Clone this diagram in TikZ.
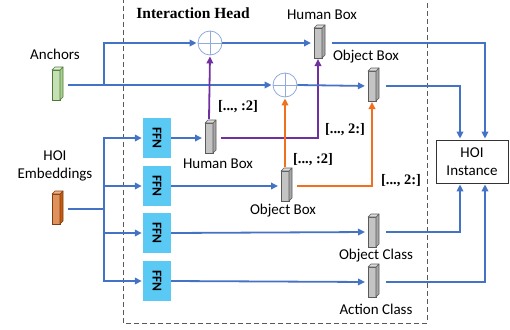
\documentclass[tikz,border=0pt]{standalone}
\usepackage{fontspec}
\usepackage{graphicx}
\setmainfont{Carlito}
\newfontfamily\timesfont{Liberation Serif}
\usetikzlibrary{arrows.meta,calc}

\definecolor{lineblue}{HTML}{4472C4}
\definecolor{linepurple}{HTML}{7030A0}
\definecolor{lineorange}{HTML}{F07020}
\definecolor{ringblue}{HTML}{8FAADC}
\definecolor{ffncyan}{RGB}{90,202,245}
\definecolor{grayfront}{HTML}{C4C4C4}
\definecolor{grayside}{HTML}{A6A6A6}
\definecolor{graytop}{HTML}{DDDDDD}
\definecolor{grayedge}{HTML}{5A5A5A}
\definecolor{greenfront}{HTML}{C5E0B4}
\definecolor{greenside}{HTML}{A9D18E}
\definecolor{greentop}{HTML}{E2F0D9}
\definecolor{greenedge}{HTML}{4E7A35}
\definecolor{orangefront}{HTML}{E0925C}
\definecolor{orangeside}{HTML}{C55A11}
\definecolor{orangetop}{HTML}{F4B183}
\definecolor{orangeedge}{HTML}{7F3F10}

% front face of a bar, plus its right side and top faces
\newcommand\barfaces[4]{%
  \draw[draw=#4, line width=0.6pt, fill=#2, line join=round]
    (#1.north east) -- ++(3,-3) -- ++(0,30) -- (#1.south east) -- cycle;
  \draw[draw=#4, line width=0.6pt, fill=#3, line join=round]
    (#1.north west) -- ++(3,-3) -- ++(8,0) -- (#1.north east) -- cycle;
}

\begin{document}
\begin{tikzpicture}[x=1pt,y=-1pt,
  tip/.style={-{Triangle[length=7pt,width=6.5pt]}},
  flow/.style={draw=lineblue, line width=1.8pt, tip, shorten >=1pt},
  flowline/.style={draw=lineblue, line width=1.8pt},
  pflow/.style={draw=linepurple, line width=1.8pt, tip, shorten >=1pt},
  oflow/.style={draw=lineorange, line width=1.8pt, tip, shorten >=1pt},
  bar/.style={rectangle, minimum width=8pt, minimum height=30pt,
    inner sep=0pt, outer sep=0pt, line width=0.6pt},
  graybar/.style={bar, fill=grayfront, draw=grayedge},
  ffnbox/.style={rectangle, fill=ffncyan, minimum width=28pt,
    minimum height=40pt, inner sep=0pt,
    font=\fontsize{13.5}{13.5}\selectfont\bfseries},
  oplus/.style={circle, draw=ringblue, line width=0.8pt, fill=white,
    minimum size=24pt, inner sep=0pt,
    path picture={\draw[ringblue, line width=0.8pt]
      (path picture bounding box.north) -- (path picture bounding box.south)
      (path picture bounding box.west) -- (path picture bounding box.east);}},
  lbl/.style={font=\fontsize{15}{18}\selectfont, inner sep=0pt, align=center},
  slice/.style={font=\timesfont\bfseries\fontsize{14.5}{15}\selectfont, inner sep=0pt},
  headbox/.style={draw=black!65, line width=0.8pt, dash pattern=on 5pt off 3pt}
]
\useasboundingbox (0,0) rectangle (510,329);

% interaction head frame
\draw[headbox] (123,-2) -- (123,323) -- (427,323) -- (427,-2);
\node[font=\timesfont\bfseries\fontsize{15.5}{16}\selectfont, inner sep=0pt]
  (headlbl) at (193,13) {Interaction Head};

% inputs
\node[lbl] (anclbl) at (55,54) {Anchors};
\node[bar, fill=greenfront, draw=greenedge] (anc) at (56,85) {};
\barfaces{anc}{greenside}{greentop}{greenedge}

\node[lbl] (emblbl) at (55,166) {HOI\\Embeddings};
\node[bar, fill=orangefront, draw=orangeedge] (emb) at (56,209) {};
\barfaces{emb}{orangeside}{orangetop}{orangeedge}

% feed-forward heads
\node[ffnbox] (f1) at (157,138) {\rotatebox{-90}{FFN}};
\node[ffnbox] (f2) at (157,186) {\rotatebox{-90}{FFN}};
\node[ffnbox] (f3) at (157,233) {\rotatebox{-90}{FFN}};
\node[ffnbox] (f4) at (157,281) {\rotatebox{-90}{FFN}};

% offset sums
\node[oplus] (c1) at (210,43) {};
\node[oplus] (c2) at (285,85) {};

% intermediate and final outputs
\node[graybar] (hb) at (209,138) {};
\barfaces{hb}{grayside}{graytop}{grayedge}
\node[lbl] (hblbl) at (218,164) {Human Box};

\node[graybar] (ob) at (285,186) {};
\barfaces{ob}{grayside}{graytop}{grayedge}
\node[lbl] (oblbl) at (283,211) {Object Box};

\node[graybar] (hbt) at (318,43) {};
\barfaces{hbt}{grayside}{graytop}{grayedge}
\node[lbl] (hbtlbl) at (322,15) {Human Box};

\node[graybar] (obt) at (372,86) {};
\barfaces{obt}{grayside}{graytop}{grayedge}
\node[lbl] (obtlbl) at (366,57) {Object Box};

\node[graybar] (oc) at (372,232) {};
\barfaces{oc}{grayside}{graytop}{grayedge}
\node[lbl] (oclbl) at (376,256) {Object Class};

\node[graybar] (ac) at (372,282) {};
\barfaces{ac}{grayside}{graytop}{grayedge}
\node[lbl] (aclbl) at (376,309) {Action Class};

\node[draw=black!80, line width=0.8pt, minimum width=72pt, minimum height=43pt,
  lbl, inner sep=0pt] (hoi) at (472,161.5) {HOI\\Instance};

% anchors into the sums
\coordinate (asplit) at (104,85);
\draw[flow] ([xshift=8pt]anc.east) -- (c2.west);
\draw[flow] (asplit) |- (c1.west);

% embeddings fan out to the heads
\coordinate (ebus) at (104,209);
\draw[flowline] ([xshift=8pt]emb.east) -- (ebus);
\draw[flow] (ebus) |- (f1.west);
\draw[flow] (ebus) |- (f2.west);
\draw[flow] (ebus) |- (f3.west);
\draw[flow] (ebus) |- (f4.west);

% head outputs
\draw[flow, shorten >=3pt] (f1.east) -- (hb.west);
\draw[flow, shorten >=3pt] (f2.east) -- (ob.west);
\draw[flow, shorten >=3pt] (f3.east) -- (oc.west);
\draw[flow, shorten >=3pt] (f4.east) -- (ac.west);

% box slices
\draw[pflow] ([yshift=4pt]hb.north) -- (c1.south);
\draw[pflow] ([xshift=8pt]hb.east) -| (hbt.south);
\draw[oflow] ([yshift=4pt]ob.north) -- (c2.south);
\draw[oflow] ([xshift=8pt]ob.east) -| (obt.south);
\node[slice] (s1) at (238,107) {[..., :2]};
\node[slice] (s2) at (345,130) {[..., 2:]};
\node[slice] (s3) at (313,160) {[..., :2]};
\node[slice] (s4) at (401,181) {[..., 2:]};

% sums to refined boxes
\draw[flow, shorten >=3pt] (c1.east) -- (hbt.west);
\draw[flow, shorten >=3pt] (c2.east) -- (obt.west);

% everything into the HOI instance
\draw[flow] ([xshift=10pt]hbt.east) -| ($(hoi.north)+(13,0)$);
\draw[flow] ([xshift=10pt]obt.east) -| ($(hoi.north)+(-12,0)$);
\draw[flow] ([xshift=10pt]oc.east) -| ($(hoi.south)+(-12,0)$);
\draw[flow] ([xshift=10pt]ac.east) -| ($(hoi.south)+(13,0)$);
\end{tikzpicture}
\end{document}
